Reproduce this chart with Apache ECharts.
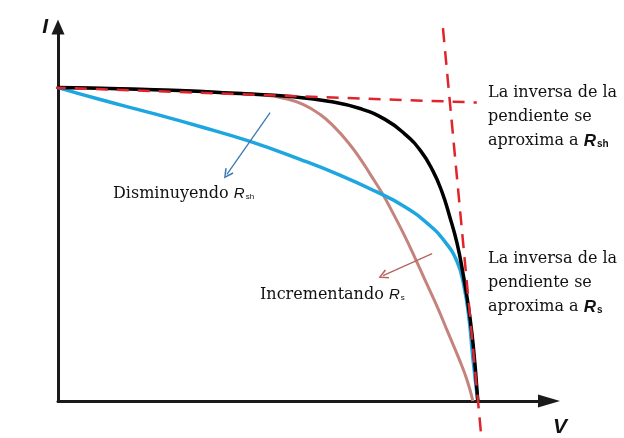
<!DOCTYPE html>
<html>
<head>
<meta charset="utf-8">
<script src="https://cdn.jsdelivr.net/npm/echarts@6/dist/echarts.min.js"></script>
<style>
  html, body { margin: 0; padding: 0; background: #ffffff; }
  #chart { width: 624px; height: 438px; }
</style>
</head>
<body>
<div id="chart"></div>
<script>
// I-V curves of a solar cell (normalised units: V and I as fractions of the axis length)

// Ideal cell
const vIdeal = [0, 0.126, 0.248, 0.371, 0.473, 0.554, 0.615, 0.666, 0.707, 0.739, 0.764, 0.782, 0.798, 0.813, 0.825, 0.835, 0.843, 0.849, 0.853, 0.855];
const iIdeal = [0.838, 0.835, 0.830, 0.822, 0.814, 0.801, 0.782, 0.753, 0.713, 0.668, 0.614, 0.559, 0.492, 0.420, 0.340, 0.261, 0.181, 0.101, 0.035, 0];

// Larger series resistance Rs
const vRs = [0, 0.126, 0.248, 0.350, 0.415, 0.462, 0.499, 0.534, 0.564, 0.591, 0.615, 0.637, 0.660, 0.682, 0.705, 0.727, 0.749, 0.772, 0.794, 0.817, 0.833, 0.845];
const iRs = [0.838, 0.835, 0.830, 0.824, 0.819, 0.809, 0.793, 0.766, 0.731, 0.691, 0.649, 0.604, 0.556, 0.503, 0.444, 0.383, 0.319, 0.253, 0.184, 0.112, 0.056, 0];

// Smaller shunt resistance Rsh
const vRsh = [0, 0.086, 0.187, 0.289, 0.391, 0.493, 0.574, 0.646, 0.707, 0.754, 0.788, 0.813, 0.827, 0.837, 0.845, 0.855];
const iRsh = [0.838, 0.806, 0.771, 0.734, 0.694, 0.646, 0.604, 0.561, 0.519, 0.473, 0.426, 0.372, 0.306, 0.221, 0.114, 0];

// Tangent lines: near Isc (slope ~ 1/Rsh) and near Voc (slope ~ 1/Rs)
const vTanIsc = [-0.094, 0.853];
const iTanIsc = [0.842, 0.798];
const vTanVoc = [0.784, 0.862];
const iTanVoc = [0.997, -0.093];

// Direction arrows
const arrowRsh = [[0.432, 0.771], [0.344, 0.606]];
const arrowRs = [[0.762, 0.394], [0.662, 0.335]];

const zip = (xs, ys) => xs.map((x, k) => [x, ys[k]]);

const serifFont = 'DejaVu Serif';
const chevron = 'path://M5,0 L10,10 L8.6,11 L5,3.2 L1.4,11 L0,10 Z';

const blockRich = {
  t: { fontFamily: serifFont, fontSize: 16, lineHeight: 24, fill: '#111' },
  r: { fontFamily: 'Liberation Sans', fontWeight: 'bold', fontStyle: 'italic', fontSize: 17, lineHeight: 24, fill: '#111' },
  s: { fontFamily: 'Liberation Sans', fontWeight: 'bold', fontSize: 10, lineHeight: 24, padding: [7, 0, 0, 1], fill: '#111' }
};
const noteRich = {
  t: { fontFamily: serifFont, fontSize: 16, lineHeight: 22, fill: '#111' },
  r: { fontFamily: 'Liberation Sans', fontStyle: 'italic', fontSize: 15, lineHeight: 22, fill: '#111' },
  s: { fontFamily: 'Liberation Sans', fontSize: 8, lineHeight: 22, padding: [6, 0, 0, 1], fill: '#111' }
};

const chart = echarts.init(document.getElementById('chart'), null, { renderer: 'canvas' });

chart.setOption({
  animation: false,
  backgroundColor: '#ffffff',
  grid: { left: 58, right: 75, top: 27, bottom: 35 },
  xAxis: {
    type: 'value', min: 0, max: 1,
    name: 'V',
    nameLocation: 'end',
    nameGap: 4,
    nameTextStyle: {
      fontFamily: 'Liberation Sans', fontWeight: 'bold', fontStyle: 'italic',
      fontSize: 21, color: '#111', align: 'left', verticalAlign: 'top', padding: [16, 0, 0, 0]
    },
    axisLine: {
      onZero: false,
      lineStyle: { color: '#1a1a1a', width: 3 },
      symbol: ['none', 'triangle'], symbolSize: [13, 22]
    },
    axisTick: { show: false }, axisLabel: { show: false }, splitLine: { show: false }
  },
  yAxis: {
    type: 'value', min: 0, max: 1,
    name: 'I',
    nameLocation: 'end',
    nameGap: -11,
    nameTextStyle: {
      fontFamily: 'Liberation Sans', fontWeight: 'bold', fontStyle: 'italic',
      fontSize: 21, color: '#111', align: 'right', verticalAlign: 'bottom', padding: [0, 10, 0, 0]
    },
    axisLine: {
      onZero: false,
      lineStyle: { color: '#1a1a1a', width: 3 },
      symbol: ['none', 'triangle'], symbolSize: [13, 15]
    },
    axisTick: { show: false }, axisLabel: { show: false }, splitLine: { show: false }
  },
  series: [
    {
      name: 'Rs', type: 'line', data: zip(vRs, iRs), smooth: 0.5, symbol: 'none',
      lineStyle: { color: '#c4837c', width: 3 }, z: 2
    },
    {
      name: 'Rsh', type: 'line', data: zip(vRsh, iRsh), smooth: 0.5, symbol: 'none',
      lineStyle: { color: '#1ea6e0', width: 3.5 }, z: 3
    },
    {
      name: 'ideal', type: 'line', data: zip(vIdeal, iIdeal), smooth: 0.5, symbol: 'none',
      lineStyle: { color: '#000000', width: 3.5 }, z: 4
    },
    {
      name: 'tanIsc', type: 'line', data: zip(vTanIsc, iTanIsc), symbol: 'none', clip: false,
      lineStyle: { color: '#e0242c', width: 2.5, type: [12, 9] }, z: 5
    },
    {
      name: 'tanVoc', type: 'line', data: zip(vTanVoc, iTanVoc), symbol: 'none', clip: false,
      lineStyle: { color: '#e0242c', width: 2.5, type: [14, 9] }, z: 5
    },
    {
      type: 'lines', coordinateSystem: 'cartesian2d',
      symbol: ['none', chevron], symbolSize: [9, 10],
      lineStyle: { color: '#3b78b4', width: 1.3, opacity: 1, curveness: 0 },
      data: [{ coords: arrowRsh }], z: 6
    },
    {
      type: 'lines', coordinateSystem: 'cartesian2d',
      symbol: ['none', chevron], symbolSize: [9, 10],
      lineStyle: { color: '#b7635f', width: 1.3, opacity: 1, curveness: 0 },
      data: [{ coords: arrowRs }], z: 6
    }
  ],
  graphic: [
    {
      type: 'text', left: 488, top: 85,
      style: { text: '{t|La inversa de la}\n{t|pendiente se}\n{t|aproxima a }{r|R}{s|sh}', rich: blockRich }
    },
    {
      type: 'text', left: 488, top: 251,
      style: { text: '{t|La inversa de la}\n{t|pendiente se}\n{t|aproxima a }{r|R}{s|s}', rich: blockRich }
    },
    {
      type: 'text', left: 113, top: 186,
      style: { text: '{t|Disminuyendo }{r|R}{s|sh}', rich: noteRich }
    },
    {
      type: 'text', left: 260, top: 287,
      style: { text: '{t|Incrementando }{r|R}{s|s}', rich: noteRich }
    }
  ]
});
</script>
</body>
</html>
